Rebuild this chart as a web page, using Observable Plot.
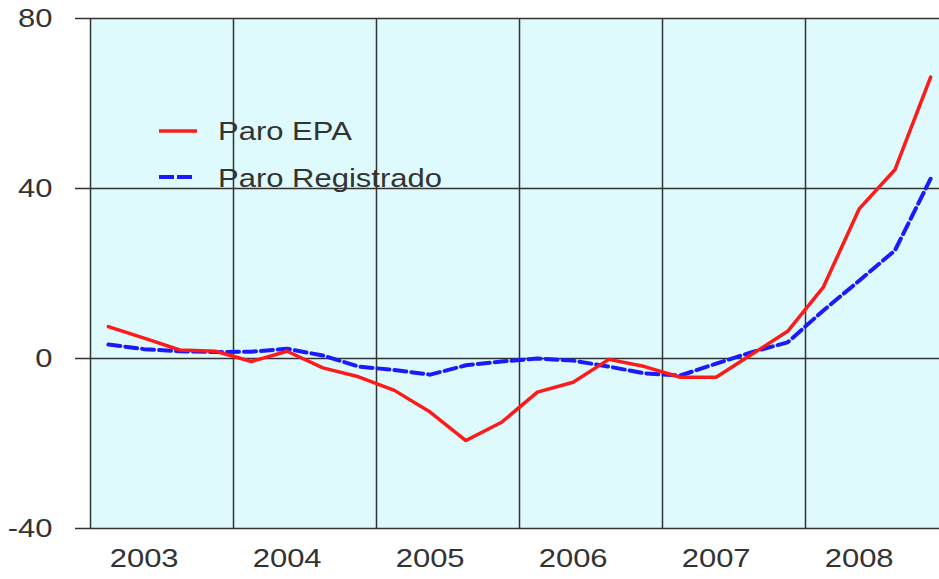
<!DOCTYPE html>
<html><head><meta charset="utf-8">
<script src="https://cdn.jsdelivr.net/npm/d3@7"></script>
<script src="https://cdn.jsdelivr.net/npm/@observablehq/plot@0.6"></script>
<style>
html,body{margin:0;padding:0;background:#fff;}
#wrap{position:relative;width:939px;height:579px;overflow:hidden;}
#legend{position:absolute;left:0;top:0;pointer-events:none;}
</style></head><body><div id="wrap"></div>
<script>
const years = ["2003","2004","2005","2006","2007","2008"];
const quartersPerYear = 4;
const paroEPA = [7.5, 4.8, 2.0, 1.7, -0.7, 1.7, -2.2, -4.3, -7.5, -12.6, -19.3, -15.0,
                 -7.9, -5.6, -0.2, -1.9, -4.4, -4.4, 1.0, 6.4, 16.8, 35.2, 44.4, 66.2];
const paroRegistrado = [3.3, 2.2, 1.7, 1.5, 1.6, 2.3, 0.7, -1.9, -2.7, -3.8, -1.6, -0.7,
                        0.0, -0.5, -1.9, -3.5, -4.0, -1.2, 1.5, 3.8, 11.3, 18.3, 25.4, 42.3];
const yTicks = [-40, 0, 40, 80];
const seriesNames = ["Paro EPA", "Paro Registrado"];
const colors = ["#ff1a1a", "#1a1aff"];

const nQ = years.length * quartersPerYear;
const rowsEPA = paroEPA.map((v, i) => ({q: i + 0.5, v}));
const rowsReg = paroRegistrado.map((v, i) => ({q: i + 0.5, v}));
const boundaries = d3.range(0, nQ + 1, quartersPerYear);
const yearTicks = years.map((y, i) => i * quartersPerYear + 1.5);

const chart = Plot.plot({
  width: 939, height: 579,
  marginLeft: 90, marginRight: 0, marginTop: 18, marginBottom: 51,
  style: {fontFamily: "'Liberation Sans', Arial, sans-serif", fontSize: "25px", color: "#333", background: "transparent", overflow: "visible"},
  x: {domain: [0, nQ], range: [90, 948]},
  y: {domain: [-40, 80], range: [528, 18]},
  marks: [
    Plot.frame({fill: "#dffafc", stroke: null}),
    Plot.ruleX(boundaries, {stroke: "#333", strokeWidth: 1.5}),
    Plot.ruleY(yTicks, {stroke: "#333", strokeWidth: 1.5}),
    Plot.axisY({ticks: yTicks, tickFormat: d => String(d), anchor: "left", tickSize: 15, tickPadding: 23, stroke: "#333", strokeWidth: 1.5, fill: "#333", label: null, fontSize: 25}),
    Plot.axisX({ticks: yearTicks, tickFormat: d => years[Math.round((d - 1.5) / quartersPerYear)], tickSize: 0, tickPadding: 21, fill: "#333", label: null, fontSize: 25}),
    Plot.line(rowsReg, {x: "q", y: "v", stroke: colors[1], strokeWidth: 4, strokeDasharray: "12,5"}),
    Plot.line(rowsEPA, {x: "q", y: "v", stroke: colors[0], strokeWidth: 3.5})
  ]
});

// horizontally stretch all text like the reference (scale about each text's anchor)
function stretch(root, k) {
  root.querySelectorAll("text").forEach(t => {
    let tr = t.getAttribute("transform") || "";
    const x = t.getAttribute("x");
    if (x !== null && /^-?[\d.]+$/.test(x.trim())) {
      tr = `translate(${x},0) ` + tr;
      t.removeAttribute("x");
    }
    t.setAttribute("transform", (tr + ` scale(${k},1)`).trim());
  });
}
stretch(chart, 1.24);
document.getElementById("wrap").appendChild(chart);

// legend overlay
const ns = "http://www.w3.org/2000/svg";
const leg = document.createElementNS(ns, "svg");
leg.setAttribute("id", "legend");
leg.setAttribute("width", 939); leg.setAttribute("height", 579);
const legRows = [{y: 131, base: 140}, {y: 177, base: 187}];
seriesNames.forEach((name, i) => {
  const l = document.createElementNS(ns, "line");
  l.setAttribute("x1", 159); l.setAttribute("x2", i ? 194 : 197);
  l.setAttribute("y1", legRows[i].y); l.setAttribute("y2", legRows[i].y);
  l.setAttribute("stroke", colors[i]);
  l.setAttribute("stroke-width", i ? 4 : 3.5);
  if (i) l.setAttribute("stroke-dasharray", "15,3");
  leg.appendChild(l);
  const t = document.createElementNS(ns, "text");
  t.setAttribute("x", 218); t.setAttribute("y", legRows[i].base);
  t.setAttribute("font-family", "'Liberation Sans', Arial, sans-serif");
  t.setAttribute("font-size", 25);
  t.setAttribute("fill", "#333");
  t.textContent = name;
  leg.appendChild(t);
});
stretch(leg, 1.24);
document.getElementById("wrap").appendChild(leg);
</script></body></html>
